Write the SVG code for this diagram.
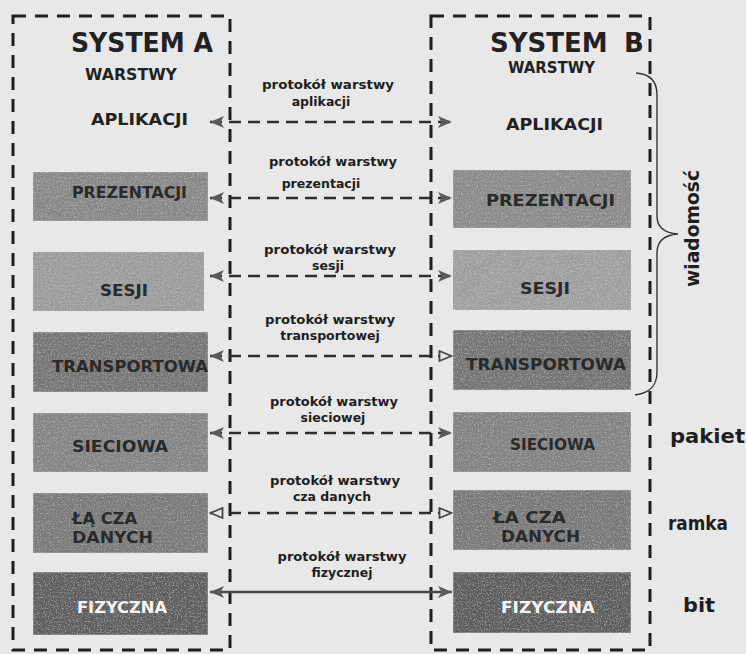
<svg xmlns="http://www.w3.org/2000/svg" width="746" height="654" viewBox="0 0 746 654">
  <defs>
    <style>
      text { font-family: "DejaVu Sans", "Liberation Sans", sans-serif; font-weight: bold; fill: #262626; }
      .frame { fill: none; stroke: #1f1f1f; stroke-width: 3; stroke-dasharray: 13 9; }
      .title { font-size: 26px; fill: #222; }
      .head { font-size: 16px; fill: #222; }
      .layer { stroke: #a8a8a8; stroke-width: 1; filter: url(#grain); }
      .lbl { font-size: 16px; fill: #2a2a2a; }
      .lbl-w { fill: #f4f4f4; }
      .proto { font-size: 12.5px; text-anchor: middle; fill: #1e1e1e; }
      .link { fill: none; stroke: #2e2e2e; stroke-width: 2.6; stroke-dasharray: 12 7; }
      .wire { fill: none; stroke: #474747; stroke-width: 2.6; }
      .unit { font-size: 20px; fill: #1e1e1e; }
      .brace { fill: none; stroke: #333; stroke-width: 1.4; }
    </style>
    <!-- speckled print texture for the layer boxes -->
    <filter id="grain" x="0" y="0" width="100%" height="100%">
      <feTurbulence type="fractalNoise" baseFrequency="0.75" numOctaves="2" seed="4" result="n"/>
      <feColorMatrix in="n" type="matrix" values="0 0 0 0 0.2  0 0 0 0 0.2  0 0 0 0 0.2  1.4 0 0 0 -0.58" result="dk"/>
      <feComposite in="dk" in2="SourceGraphic" operator="in" result="dkIn"/>
      <feColorMatrix in="n" type="matrix" values="0 0 0 0 0.8  0 0 0 0 0.8  0 0 0 0 0.8  0 1.2 0 0 -0.62" result="lt"/>
      <feComposite in="lt" in2="SourceGraphic" operator="in" result="ltIn"/>
      <feMerge>
        <feMergeNode in="SourceGraphic"/>
        <feMergeNode in="dkIn"/>
        <feMergeNode in="ltIn"/>
      </feMerge>
    </filter>
    <marker id="tipF" viewBox="0 0 15 13" refX="14" refY="6.5" markerWidth="15" markerHeight="13" markerUnits="userSpaceOnUse" orient="auto-start-reverse">
      <path d="M0,0.5 L14,6.5 L0,12.5 L3.5,6.5 z" fill="#5a5a5a"/>
    </marker>
    <marker id="tipO" viewBox="0 0 15 13" refX="14" refY="6.5" markerWidth="15" markerHeight="13" markerUnits="userSpaceOnUse" orient="auto-start-reverse">
      <path d="M1.5,1.5 L13.5,6.5 L1.5,11.5 z" fill="#e7e7e7" stroke="#444" stroke-width="1.8"/>
    </marker>
  </defs>

  <rect width="746" height="654" fill="#e8e8e8"/>

  <!-- system frames -->
  <g id="sysA">
    <rect class="frame" x="13" y="16" width="217" height="634"/>
    <text class="title" x="71" y="52" textLength="142" lengthAdjust="spacingAndGlyphs">SYSTEM A</text>
    <text class="head" x="85" y="80" textLength="92" lengthAdjust="spacingAndGlyphs">WARSTWY</text>
  </g>
  <g id="sysB">
    <rect class="frame" x="431" y="16" width="219" height="634"/>
    <text class="title" x="490" y="52">SYSTEM <tspan x="624">B</tspan></text>
    <text class="head" x="508" y="73" style="font-size:15px" textLength="87" lengthAdjust="spacingAndGlyphs">WARSTWY</text>
  </g>

  <!-- layers, system A -->
  <g id="a-aplikacji">
    <text class="head" x="91" y="125" textLength="97" lengthAdjust="spacingAndGlyphs">APLIKACJI</text>
  </g>
  <g id="a-prezentacji">
    <rect class="layer" x="33" y="172" width="175" height="49" fill="#8b8b8b"/>
    <text class="lbl" x="72" y="198" textLength="115" lengthAdjust="spacingAndGlyphs">PREZENTACJI</text>
  </g>
  <g id="a-sesji">
    <rect class="layer" x="33" y="252" width="171" height="59" fill="#a2a2a2"/>
    <text class="lbl" x="100" y="296" textLength="48" lengthAdjust="spacingAndGlyphs">SESJI</text>
  </g>
  <g id="a-transportowa">
    <rect class="layer" x="33" y="332" width="175" height="60" fill="#767676"/>
    <text class="lbl" x="52" y="372" textLength="156" lengthAdjust="spacingAndGlyphs">TRANSPORTOWA</text>
  </g>
  <g id="a-sieciowa">
    <rect class="layer" x="33" y="413" width="175" height="59" fill="#888888"/>
    <text class="lbl" x="72" y="452" textLength="96" lengthAdjust="spacingAndGlyphs">SIECIOWA</text>
  </g>
  <g id="a-lacza">
    <rect class="layer" x="33" y="493" width="175" height="60" fill="#7b7b7b"/>
    <text class="lbl" x="72" y="524" textLength="65" lengthAdjust="spacingAndGlyphs">ŁĄ CZA</text>
    <text class="lbl" x="72" y="543" textLength="81" lengthAdjust="spacingAndGlyphs">DANYCH</text>
  </g>
  <g id="a-fizyczna">
    <rect class="layer" x="33" y="572" width="175" height="63" fill="#5c5c5c"/>
    <text class="lbl lbl-w" x="77" y="613" textLength="90" lengthAdjust="spacingAndGlyphs">FIZYCZNA</text>
  </g>

  <!-- layers, system B -->
  <g id="b-aplikacji">
    <text class="head" x="506" y="130" textLength="97" lengthAdjust="spacingAndGlyphs">APLIKACJI</text>
  </g>
  <g id="b-prezentacji">
    <rect class="layer" x="453" y="170" width="178" height="58" fill="#8e8e8e"/>
    <text class="lbl" x="486" y="206" textLength="129" lengthAdjust="spacingAndGlyphs">PREZENTACJI</text>
  </g>
  <g id="b-sesji">
    <rect class="layer" x="453" y="250" width="178" height="60" fill="#a5a5a5"/>
    <text class="lbl" x="520" y="294" textLength="50" lengthAdjust="spacingAndGlyphs">SESJI</text>
  </g>
  <g id="b-transportowa">
    <rect class="layer" x="453" y="330" width="178" height="60" fill="#747474"/>
    <text class="lbl" x="466" y="370" textLength="160" lengthAdjust="spacingAndGlyphs">TRANSPORTOWA</text>
  </g>
  <g id="b-sieciowa">
    <rect class="layer" x="453" y="412" width="178" height="60" fill="#858585"/>
    <text class="lbl" x="510" y="450" textLength="85" lengthAdjust="spacingAndGlyphs">SIECIOWA</text>
  </g>
  <g id="b-lacza">
    <rect class="layer" x="453" y="490" width="178" height="60" fill="#7a7a7a"/>
    <text class="lbl" x="493" y="523" textLength="73" lengthAdjust="spacingAndGlyphs">ŁA CZA</text>
    <text class="lbl" x="501" y="542" textLength="79" lengthAdjust="spacingAndGlyphs">DANYCH</text>
  </g>
  <g id="b-fizyczna">
    <rect class="layer" x="453" y="572" width="178" height="61" fill="#5a5a5a"/>
    <text class="lbl lbl-w" x="501" y="613" textLength="94" lengthAdjust="spacingAndGlyphs">FIZYCZNA</text>
  </g>

  <!-- peer protocols between the two stacks -->
  <g id="connectors">
    <path class="link" d="M210,122 H452" marker-start="url(#tipF)" marker-end="url(#tipF)"/>
    <path class="link" d="M210,198 H452" marker-start="url(#tipF)" marker-end="url(#tipF)"/>
    <path class="link" d="M210,276 H452" marker-start="url(#tipF)" marker-end="url(#tipF)"/>
    <path class="link" d="M210,356 H452" marker-start="url(#tipF)" marker-end="url(#tipO)"/>
    <path class="link" d="M210,433 H452" marker-start="url(#tipF)" marker-end="url(#tipF)"/>
    <path class="link" d="M210,513 H452" marker-start="url(#tipO)" marker-end="url(#tipO)"/>
    <path class="wire" d="M210,592 H452" marker-start="url(#tipF)" marker-end="url(#tipF)"/>
  </g>

  <g id="protocol-labels">
    <text class="proto" x="328" y="89" textLength="132" lengthAdjust="spacingAndGlyphs">protokół warstwy</text>
    <text class="proto" x="321" y="106">aplikacji</text>
    <text class="proto" x="333" y="166" textLength="128" lengthAdjust="spacingAndGlyphs">protokół warstwy</text>
    <text class="proto" x="321" y="188">prezentacji</text>
    <text class="proto" x="330" y="254" textLength="132" lengthAdjust="spacingAndGlyphs">protokół warstwy</text>
    <text class="proto" x="328" y="270">sesji</text>
    <text class="proto" x="330" y="324" textLength="130" lengthAdjust="spacingAndGlyphs">protokół warstwy</text>
    <text class="proto" x="330" y="340">transportowej</text>
    <text class="proto" x="334" y="406" textLength="128" lengthAdjust="spacingAndGlyphs">protokół warstwy</text>
    <text class="proto" x="333" y="422">sieciowej</text>
    <text class="proto" x="335" y="485" textLength="130" lengthAdjust="spacingAndGlyphs">protokół warstwy</text>
    <text class="proto" x="332" y="501">cza danych</text>
    <text class="proto" x="342" y="561" textLength="129" lengthAdjust="spacingAndGlyphs">protokół warstwy</text>
    <text class="proto" x="342" y="577">fizycznej</text>
  </g>

  <!-- data units -->
  <g id="wiadomosc">
    <path class="brace" d="M636,73 C651,74 657,82 657,95 L657,216 C657,227 664,233 678,234 C664,235 657,242 657,253 L657,372 C657,386 650,393 635,395"/>
    <text class="unit" transform="translate(699,287) rotate(-90)" textLength="117" lengthAdjust="spacingAndGlyphs">wiadomość</text>
  </g>
  <g id="pakiet">
    <text class="unit" x="670" y="443" textLength="75" lengthAdjust="spacingAndGlyphs">pakiet</text>
  </g>
  <g id="ramka">
    <text class="unit" x="668" y="530" textLength="60" lengthAdjust="spacingAndGlyphs">ramka</text>
  </g>
  <g id="bit">
    <text class="unit" x="683" y="612" textLength="32" lengthAdjust="spacingAndGlyphs">bit</text>
  </g>
</svg>
